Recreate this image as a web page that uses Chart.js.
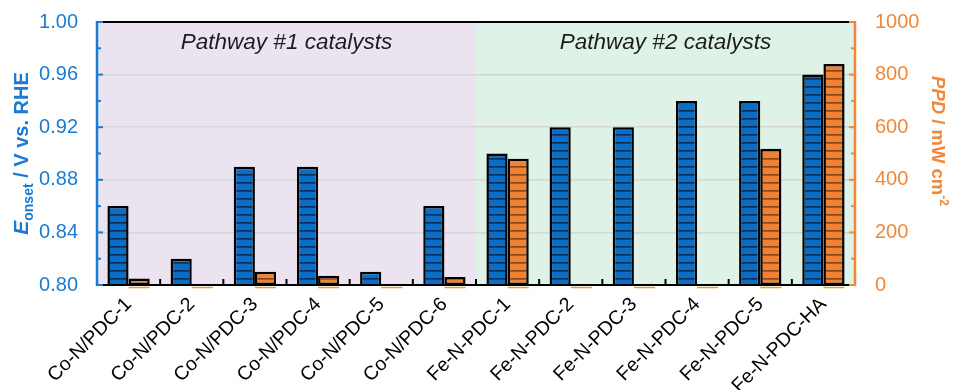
<!DOCTYPE html>
<html lang="en">
<head>
<meta charset="UTF-8">
<title>Onset potential and PPD</title>
<script src="https://cdn.jsdelivr.net/npm/chart.js"></script>
<style>
  html, body { margin: 0; padding: 0; background: #fff; }
</style>
</head>
<body>
<canvas id="myChart" width="953" height="390"></canvas>
<script>
// data
const categories = ['Co-N/PDC-1', 'Co-N/PDC-2', 'Co-N/PDC-3', 'Co-N/PDC-4', 'Co-N/PDC-5', 'Co-N/PDC-6',
                    'Fe-N-PDC-1', 'Fe-N-PDC-2', 'Fe-N-PDC-3', 'Fe-N-PDC-4', 'Fe-N-PDC-5', 'Fe-N-PDC-HA'];
const eOnset = [0.86, 0.82, 0.89, 0.89, 0.81, 0.86, 0.90, 0.92, 0.92, 0.94, 0.94, 0.96];
const ppd = [25, 0, 50, 35, 0, 30, 480, 0, 0, 0, 518, 840];
const groupLabels = ['Pathway #1 catalysts', 'Pathway #2 catalysts'];
const groupSizes = [6, 6];
const eRange = [0.80, 1.00, 0.04];
const ppdRange = [0, 1000, 200];

const FONT = "'Liberation Sans', Arial, sans-serif";
const BLUE = '#1a7bd3';
const ORANGE = '#f0883a';
Chart.defaults.font.family = FONT;

const ctx = document.getElementById('myChart').getContext('2d');

function stripes(fill, line) {
    const c = document.createElement('canvas');
    c.width = 8; c.height = 8;
    const g = c.getContext('2d');
    g.fillStyle = fill;
    g.fillRect(0, 0, 8, 8);
    g.fillStyle = line;
    g.fillRect(0, 6, 8, 1.7);
    return ctx.createPattern(c, 'repeat');
}

function drawRich(c, parts, x, y) {
    let total = 0;
    parts.forEach(p => { c.font = p.font; p.w = c.measureText(p.t).width; total += p.w; });
    let cx = x - total / 2;
    parts.forEach(p => {
        c.font = p.font;
        c.fillText(p.t, cx, y + (p.dy || 0));
        cx += p.w;
    });
}

// keep the plot box fixed: no automatic label padding
function noPad(s) {
    s.paddingTop = 0; s.paddingBottom = 0;
    s.paddingLeft = 0; s.paddingRight = 0;
}

const decorations = {
    id: 'decorations',
    beforeDraw(chart) {
        const c = chart.ctx, a = chart.chartArea, x = chart.scales.x;
        const split = x.getPixelForValue(groupSizes[0] - 0.5);
        c.save();
        c.fillStyle = '#ebe4f0';
        c.fillRect(a.left, a.top, split - a.left, a.bottom - a.top);
        c.fillStyle = '#def2e7';
        c.fillRect(split, a.top, a.right - split, a.bottom - a.top);
        c.restore();
    },
    afterDraw(chart) {
        const c = chart.ctx, a = chart.chartArea;
        const x = chart.scales.x, y = chart.scales.y, y1 = chart.scales.y1;
        c.save();

        // gold line under the orange bars
        c.strokeStyle = '#e2a41c';
        c.lineWidth = 1.5;
        chart.getDatasetMeta(1).data.forEach(el => {
            c.beginPath();
            c.moveTo(el.x - el.width / 2, a.bottom + 2.5);
            c.lineTo(el.x + el.width / 2, a.bottom + 2.5);
            c.stroke();
        });

        // frame
        c.lineWidth = 2;
        c.strokeStyle = '#000';
        c.beginPath();
        c.moveTo(a.left, a.top); c.lineTo(a.right, a.top);
        c.moveTo(a.left, a.bottom); c.lineTo(a.right, a.bottom);
        c.stroke();

        // category separators on the bottom axis
        for (let k = 1; k < categories.length; k++) {
            const px = x.getPixelForValue(k - 0.5);
            c.beginPath();
            c.moveTo(px, a.bottom); c.lineTo(px, a.bottom - 6);
            c.stroke();
        }

        c.lineWidth = 2.5;
        c.strokeStyle = BLUE;
        c.beginPath();
        c.moveTo(a.left, a.top - 1); c.lineTo(a.left, a.bottom + 1);
        c.stroke();
        c.strokeStyle = ORANGE;
        c.beginPath();
        c.moveTo(a.right, a.top - 1); c.lineTo(a.right, a.bottom + 1);
        c.stroke();

        // inward ticks, major and minor
        c.lineWidth = 2;
        c.strokeStyle = BLUE;
        for (let v = 0; v <= 10; v++) {
            const py = y.getPixelForValue(eRange[0] + v * eRange[2] / 2);
            const len = v % 2 ? 4 : 6;
            c.beginPath();
            c.moveTo(a.left, py); c.lineTo(a.left + len, py);
            c.stroke();
        }
        c.strokeStyle = ORANGE;
        for (let v = 0; v <= 10; v++) {
            const py = y1.getPixelForValue(ppdRange[0] + v * ppdRange[2] / 2);
            const len = v % 2 ? 4 : 6;
            c.beginPath();
            c.moveTo(a.right, py); c.lineTo(a.right - len, py);
            c.stroke();
        }

        // group annotations
        c.fillStyle = '#1c1c1c';
        c.font = 'italic 22.5px ' + FONT;
        c.textAlign = 'center';
        c.textBaseline = 'alphabetic';
        let start = 0;
        groupSizes.forEach((n, i) => {
            const l = x.getPixelForValue(start - 0.5);
            const r = x.getPixelForValue(start + n - 0.5);
            c.fillText(groupLabels[i], (l + r) / 2, a.top + 27);
            start += n;
        });

        // axis titles
        c.textAlign = 'left';
        c.save();
        c.translate(28, (a.top + a.bottom) / 2);
        c.rotate(-Math.PI / 2);
        c.fillStyle = BLUE;
        drawRich(c, [
            { t: 'E', font: 'italic bold 21px ' + FONT },
            { t: 'onset', font: 'bold 14px ' + FONT, dy: 5 },
            { t: ' / V vs. RHE', font: 'bold 20px ' + FONT }
        ], 0, 0);
        c.restore();

        c.save();
        c.translate(932, 141);
        c.rotate(Math.PI / 2);
        c.fillStyle = ORANGE;
        drawRich(c, [
            { t: 'PPD', font: 'italic bold 18.5px ' + FONT },
            { t: ' / mW cm', font: 'bold 18.5px ' + FONT },
            { t: '-2', font: 'bold 12px ' + FONT, dy: -8 }
        ], 0, 0);
        c.restore();

        c.restore();
    }
};

new Chart(ctx, {
    type: 'bar',
    data: {
        labels: categories,
        datasets: [
            {
                label: 'Eonset',
                data: eOnset,
                yAxisID: 'y',
                backgroundColor: stripes('#0a6ec6', '#0d2f5c'),
                borderColor: '#000',
                borderWidth: 2.5,
                borderSkipped: false
            },
            {
                label: 'PPD',
                data: ppd,
                yAxisID: 'y1',
                backgroundColor: stripes('#f08232', '#8a4618'),
                borderColor: '#000',
                borderWidth: 2.5,
                borderSkipped: false
            }
        ]
    },
    options: {
        responsive: false,
        animation: false,
        devicePixelRatio: 1,
        layout: { padding: { top: 22, left: 0, right: 0, bottom: 0 } },
        plugins: { legend: { display: false }, tooltip: { enabled: false } },
        datasets: { bar: { categoryPercentage: 0.67, barPercentage: 1.0 } },
        scales: {
            x: {
                grid: { display: false, drawTicks: false },
                border: { display: false },
                ticks: {
                    autoSkip: false, minRotation: 45, maxRotation: 45, padding: 8,
                    color: '#000', font: { size: 19.5 }
                },
                afterFit(s) { s.height = 105; noPad(s); }
            },
            y: {
                position: 'left',
                min: eRange[0], max: eRange[1],
                grid: { color: '#d6d6d6', lineWidth: 1.5, drawTicks: false },
                border: { display: false },
                ticks: {
                    stepSize: eRange[2], padding: 19, color: BLUE, font: { size: 20 },
                    callback: v => Number(v).toFixed(2)
                },
                afterFit(s) { s.width = 97; noPad(s); }
            },
            y1: {
                position: 'right',
                min: ppdRange[0], max: ppdRange[1],
                grid: { display: false, drawTicks: false },
                border: { display: false },
                ticks: {
                    stepSize: ppdRange[2], padding: 20, color: ORANGE, font: { size: 20 },
                    callback: v => String(v)
                },
                afterFit(s) { s.width = 98; noPad(s); }
            }
        }
    },
    plugins: [decorations]
});
</script>
</body>
</html>
